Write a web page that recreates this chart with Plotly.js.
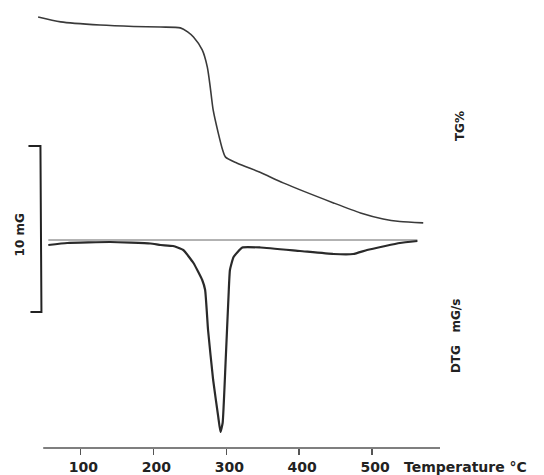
<!DOCTYPE html>
<html>
<head>
<meta charset="utf-8">
<script src="https://cdn.plot.ly/plotly-3.0.1.min.js"></script>
<style>html,body{margin:0;padding:0;background:#fff;}#chart{width:544px;height:475px;}</style>
</head>
<body>
<div id="chart"></div>
<script>
// Temperature (°C) and TG (%)
var tgTemp = [42, 73, 127, 173, 210, 237, 247, 255, 267, 274, 278, 282, 289, 295, 299, 315, 347, 378, 447, 484, 515, 538, 570];
var tgVal  = [100.0, 98.3, 97.2, 96.7, 96.5, 96.2, 94.8, 93.0, 88.5, 82.5, 75.5, 67.5, 59.4, 53.5, 51.0, 48.9, 45.6, 42.0, 35.0, 31.5, 29.4, 28.5, 28.0];

// DTG (mG/s)
var dtgTemp = [56, 82, 141, 196, 210, 227, 241, 255, 267, 271, 275, 282, 289, 292, 295, 299, 303, 305, 310, 322, 347, 401, 447, 474, 493, 518, 538, 562];
var dtgVal  = [-0.05, -0.03, -0.02, -0.035, -0.05, -0.06, -0.10, -0.23, -0.40, -0.50, -0.90, -1.40, -1.77, -1.92, -1.83, -1.23, -0.57, -0.30, -0.17, -0.075, -0.075, -0.11, -0.14, -0.14, -0.10, -0.06, -0.03, -0.01];

// DTG zero baseline
var baseTemp = [56, 562];
var baseVal = [0, 0];

var tickVals = [100, 200, 300, 400, 500];
var tickText = ['100', '200', '300', '400', '500'];

var W = 544, H = 475;
var mL = 32.55, mR = 104.1, mT = 10, mB = 27;
var pw = W - mL - mR, ph = H - mT - mB;
function px(x) { return (x - mL) / pw; }
function py(y) { return (H - mB - y) / ph; }

var traces = [
  {x: tgTemp, y: tgVal, type: 'scatter', mode: 'lines', yaxis: 'y',
   line: {color: '#3a3a3a', width: 1.6, shape: 'spline', smoothing: 0.7}, hoverinfo: 'skip'},
  {x: baseTemp, y: baseVal, type: 'scatter', mode: 'lines', yaxis: 'y2',
   line: {color: '#666', width: 1}, hoverinfo: 'skip'},
  {x: dtgTemp, y: dtgVal, type: 'scatter', mode: 'lines', yaxis: 'y2',
   line: {color: '#2a2a2a', width: 2.2, shape: 'spline', smoothing: 0.4}, hoverinfo: 'skip'}
];

var fontFam = 'DejaVu Sans, sans-serif';
var layout = {
  width: W, height: H,
  margin: {l: mL, r: mR, t: mT, b: mB},
  paper_bgcolor: '#fff', plot_bgcolor: '#fff',
  showlegend: false,
  xaxis: {
    range: [35, 593], showgrid: false, zeroline: false, showline: false,
    tickmode: 'array', tickvals: tickVals, ticktext: tickText,
    ticks: 'outside', ticklen: 6, tickwidth: 1.5, tickcolor: '#555',
    ticklabelshift: 3,
    tickfont: {family: fontFam, size: 14, color: '#222', weight: 'bold'}
  },
  yaxis: {range: [-50.7, 102.45], visible: false, fixedrange: true},
  yaxis2: {range: [-2.08, 2.30], visible: false, overlaying: 'y', fixedrange: true},
  shapes: [
    {type: 'line', xref: 'x', yref: 'paper', x0: 49, x1: 593, y0: 0, y1: 0,
     line: {color: '#555', width: 1.5}},
    {type: 'path', xref: 'paper', yref: 'paper',
     path: 'M ' + px(28) + ' ' + py(146) + ' L ' + px(40) + ' ' + py(146) + ' L ' + px(41) + ' ' + py(312) + ' L ' + px(30) + ' ' + py(312),
     line: {color: '#222', width: 2}}
  ],
  annotations: [
    {text: '<b>10 mG</b>', xref: 'paper', yref: 'paper', x: px(20), y: py(235), showarrow: false,
     xanchor: 'center', yanchor: 'middle',
     textangle: -90, font: {family: fontFam, size: 12, color: '#222'}},
    {text: '<b>TG%</b>', xref: 'paper', yref: 'paper', x: px(460), y: py(126), showarrow: false,
     xanchor: 'center', yanchor: 'middle',
     textangle: -90, font: {family: fontFam, size: 12, color: '#222'}},
    {text: '<b>DTG   mG/s</b>', xref: 'paper', yref: 'paper', x: px(456), y: py(336), showarrow: false,
     xanchor: 'center', yanchor: 'middle',
     textangle: -90, font: {family: fontFam, size: 12, color: '#222'}},
    {text: '<b>Temperature °C</b>', xref: 'paper', yref: 'paper', x: px(402), y: py(467), showarrow: false,
     xanchor: 'left', yanchor: 'middle', font: {family: fontFam, size: 14, color: '#222'}}
  ]
};

Plotly.newPlot('chart', traces, layout, {displayModeBar: false, staticPlot: true});
</script>
</body>
</html>
